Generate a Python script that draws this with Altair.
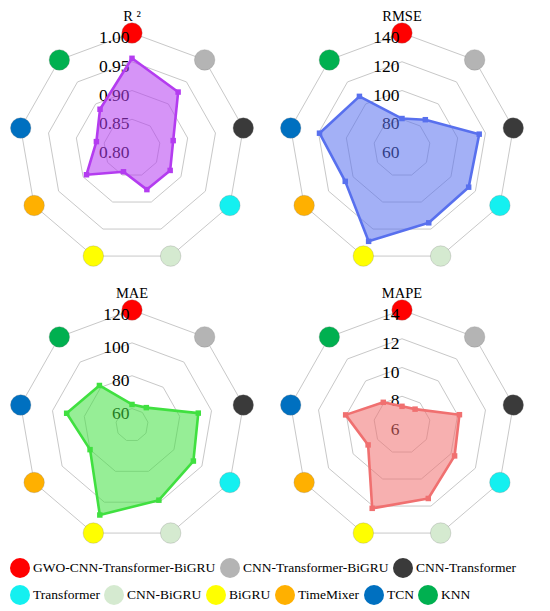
import altair as alt
import pandas as pd

SERIF = "Liberation Serif"

# ---------------- data ----------------
models = [
    "GWO-CNN-Transformer-BiGRU",
    "CNN-Transformer-BiGRU",
    "CNN-Transformer",
    "Transformer",
    "CNN-BiGRU",
    "BiGRU",
    "TimeMixer",
    "TCN",
    "KNN",
]
model_colors = [
    "#FF0000", "#B4B4B4", "#3A3A3A", "#14F0F0", "#D5EAD0",
    "#FFFF00", "#FFB000", "#0070C0", "#00B050",
]

r2_values = [0.956, 0.927, 0.874, 0.878, 0.877, 0.844, 0.893, 0.864, 0.888]
rmse_values = [80.5, 85.7, 115.5, 114.5, 115.4, 129.1, 106.4, 119.3, 106.9]
mae_values = [62.5, 63.8, 91.7, 93.9, 98.7, 108.3, 80.0, 91.1, 81.4]
mape_values = [7.30, 7.44, 10.13, 10.30, 11.44, 12.17, 8.77, 10.05, 8.06]

# radial axes: labelled ticks, value at the centre, value at the outer ring
r2_ticks = [0.80, 0.85, 0.90, 0.95, 1.00]
rmse_ticks = [60, 80, 100, 120, 140]
mae_ticks = [60, 80, 100, 120]
mape_ticks = [6, 8, 10, 12, 14]

panel_titles = ["R \u00b2", "RMSE", "MAE", "MAPE"]
axis_centre = [0.80, 60, 50, 6]
axis_outer = [1.00, 140, 120, 14]
tick_formats = [".2f", "d", "d", "d"]
series_colors = ["#B43CF0", "#5870EE", "#40E040", "#F07070"]

# ---------------- layout constants ----------------
N = len(models)
RX_PX = 113
RY_PX = 115
HALF = 120

X = alt.X("px:Q", scale=alt.Scale(domain=[-HALF / RX_PX, HALF / RX_PX]), axis=None)
Y = alt.Y("py:Q", scale=alt.Scale(domain=[-HALF / RY_PX, HALF / RY_PX]), axis=None)


def calc(field, c, o):
    return {
        "rn": f"(datum['{field}'] - ({c})) / (({o}) - ({c}))",
        "ang": f"datum.idx * 2 * PI / {N}",
        "px": "datum.rn * sin(datum.ang)",
        "py": "datum.rn * cos(datum.ang)",
    }


def panel(title, values, ticks, c, o, fmt, color):
    vals_df = pd.DataFrame({"model": models, "idx": list(range(N)), "value": values})
    ring_levels = [t for t in ticks if t > c]
    rings_df = pd.DataFrame(
        [(lv, k) for lv in ring_levels for k in range(N)], columns=["level", "idx"]
    )
    ticks_df = pd.DataFrame({"level": ticks, "idx": [0] * len(ticks)})

    rings = (
        alt.Chart(rings_df)
        .transform_calculate(**calc("level", c, o))
        .mark_line(interpolate="linear-closed", stroke="#C8C8C8", strokeWidth=1)
        .encode(x=X, y=Y, detail="level:N", order="idx:Q")
    )
    circles = (
        alt.Chart(vals_df)
        .transform_calculate(**{"lev": f"{o}", **calc("lev", c, o)})
        .mark_circle(size=420, opacity=1, stroke="#808080", strokeWidth=0.8, strokeOpacity=0.35)
        .encode(
            x=X,
            y=Y,
            fill=alt.Fill(
                "model:N",
                scale=alt.Scale(domain=models, range=model_colors),
                legend=None,
            ),
        )
    )
    labels = (
        alt.Chart(ticks_df)
        .transform_calculate(**calc("level", c, o))
        .mark_text(
            align="right", baseline="middle", dx=-2.5, dy=5,
            font=SERIF, fontSize=17.5, color="black",
        )
        .encode(x=X, y=Y, text=alt.Text("level:Q", format=fmt))
    )
    polygon = (
        alt.Chart(vals_df)
        .transform_calculate(**calc("value", c, o))
        .mark_line(
            interpolate="linear-closed", stroke=color, strokeWidth=2.6,
            fill=color, fillOpacity=0.55, strokeJoin="round",
        )
        .encode(x=X, y=Y, order="idx:Q")
    )
    markers = (
        alt.Chart(vals_df)
        .transform_calculate(**calc("value", c, o))
        .mark_point(shape="square", filled=True, size=30, color=color, opacity=1)
        .encode(x=X, y=Y)
    )
    return alt.layer(rings, circles, labels, polygon, markers).properties(
        width=2 * HALF,
        height=2 * HALF,
        title=alt.TitleParams(
            title, font=SERIF, fontSize=14.5, fontWeight="normal", color="black",
            offset=0, dy=3, anchor="middle", frame="group",
        ),
    )


all_values = [r2_values, rmse_values, mae_values, mape_values]
all_ticks = [r2_ticks, rmse_ticks, mae_ticks, mape_ticks]
panels_list = [
    panel(panel_titles[i], all_values[i], all_ticks[i], axis_centre[i],
          axis_outer[i], tick_formats[i], series_colors[i])
    for i in range(4)
]


def legend_row(names, cols):
    df = pd.DataFrame({"model": names, "idx": list(range(len(names)))})
    return (
        alt.Chart(df)
        .transform_filter("datum.idx < 0")
        .mark_circle(size=400, opacity=1)
        .encode(
            color=alt.Color(
                "model:N",
                scale=alt.Scale(domain=names, range=cols),
                legend=alt.Legend(
                    title=None, orient="none", legendX=-2, legendY=0,
                    direction="horizontal", symbolType="circle", symbolSize=400,
                    symbolStrokeWidth=0, symbolOpacity=1,
                    labelFont=SERIF, labelFontSize=13.5, labelColor="black",
                    labelLimit=400, labelOffset=3, columnPadding=4, padding=0,
                ),
            )
        )
        .properties(width=520, height=20)
    )


leg1 = legend_row(models[:3], model_colors[:3])
leg2 = legend_row(models[3:], model_colors[3:])

row1 = alt.hconcat(panels_list[0], panels_list[1], spacing=30, bounds="flush")
row2 = alt.hconcat(panels_list[2], panels_list[3], spacing=30, bounds="flush")
panels = alt.vconcat(row1, row2, spacing=16)
legends = alt.vconcat(leg1, leg2, spacing=7).resolve_scale(color="independent")

chart = (
    alt.vconcat(panels, legends, spacing=12)
    .properties(padding=0)
    .configure_view(stroke="transparent")
)

chart.save("out.html", embed_options={"renderer": "svg", "actions": False})
